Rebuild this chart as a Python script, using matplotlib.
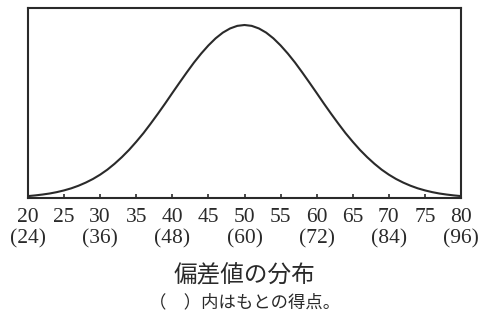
import matplotlib
matplotlib.use("Agg")
import matplotlib.pyplot as plt

# 偏差値 (x) and relative height of the distribution curve
hensachi = list(range(20, 81))
left_half = [0.011, 0.015, 0.020, 0.026, 0.034, 0.044, 0.056, 0.071, 0.089, 0.110,
             0.135, 0.164, 0.198, 0.236, 0.278, 0.325, 0.375, 0.430, 0.487, 0.546,
             0.607, 0.667, 0.726, 0.783, 0.835, 0.882, 0.923, 0.956, 0.980, 0.995]
height = left_half + [1.000] + left_half[::-1]

tick_values = [20, 25, 30, 35, 40, 45, 50, 55, 60, 65, 70, 75, 80]
tick_labels = [str(v) for v in tick_values]
raw_positions = [20, 30, 40, 50, 60, 70, 80]
raw_labels = ["(24)", "(36)", "(48)", "(60)", "(72)", "(84)", "(96)"]

title = "偏差値の分布"
subtitle = "（　）内はもとの得点。"

ink = "#2a2a2a"
fig = plt.figure(figsize=(4.87, 3.16), dpi=100)
ax = fig.add_axes([28/487, 1-198/316, (461-28)/487, (198-8)/316])
ax.plot(hensachi, height, color=ink, lw=1.5, solid_capstyle="round")
ax.set_xlim(20, 80)
ax.set_ylim(0, 190/173)
ax.set_yticks([])
for s in ax.spines.values():
    s.set_color(ink)
    s.set_linewidth(1.5)
ax.set_xticks(tick_values)
ax.set_xticklabels(tick_labels, family="Liberation Serif", fontsize=15.5, color=ink)
ax.tick_params(axis="x", direction="in", length=3, width=1.2, color=ink, pad=7.5)

for v, lab in zip(raw_positions, raw_labels):
    ax.annotate(lab, xy=(v, 0), xycoords=("data", "axes fraction"),
                xytext=(0, -29.5), textcoords="offset points",
                ha="center", va="center", family="Liberation Serif",
                fontsize=15.5, color=ink)

cx = (28 + 461) / 2 / 487
fig.text(cx, 1-276/316, title, ha="center", va="center",
         family=["Noto Sans CJK JP", "DejaVu Sans"], fontsize=17, color=ink)
fig.text(cx, 1-302/316, subtitle, ha="center", va="center",
         family=["Noto Sans CJK JP", "DejaVu Sans"], fontsize=12.5, color=ink)

fig.savefig("out.png", dpi=100)
